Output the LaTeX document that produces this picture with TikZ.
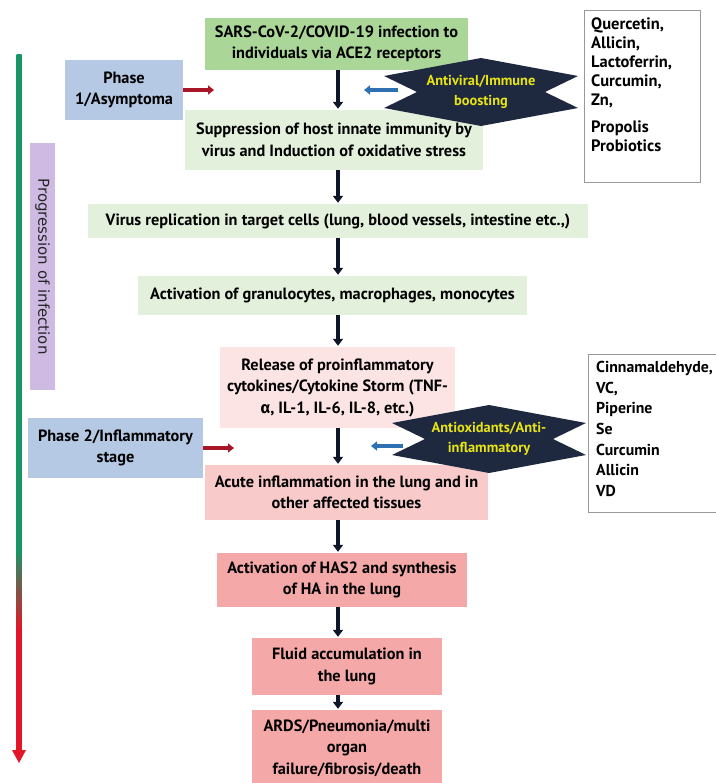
\documentclass[tikz,border=0pt]{standalone}
\usepackage{fontspec}
\setmainfont{PT Sans}
\newfontfamily\grkfont{Fira Sans}
\newfontfamily\labfont{DejaVu Sans}
\usetikzlibrary{positioning,arrows.meta,calc}

\definecolor{infgreen}{RGB}{170,215,152}
\definecolor{palegreen}{RGB}{227,240,219}
\definecolor{palepink}{RGB}{252,228,228}
\definecolor{midpink}{RGB}{248,202,202}
\definecolor{salmon}{RGB}{244,168,168}
\definecolor{phblue}{RGB}{181,201,228}
\definecolor{lavender}{RGB}{206,186,226}
\definecolor{navy}{RGB}{30,40,62}
\definecolor{starText}{RGB}{232,228,20}
\definecolor{arrBlack}{RGB}{16,22,42}
\definecolor{arrRed}{RGB}{168,22,40}
\definecolor{arrBlue}{RGB}{46,112,178}
\definecolor{progreen}{RGB}{24,150,102}
\definecolor{prored}{RGB}{226,22,40}

% green-to-red fill of the progression bar
\pgfdeclareverticalshading{progshade}{100bp}{color(0bp)=(prored); color(33.8bp)=(prored);
  color(39.5bp)=(progreen); color(100bp)=(progreen)}

% four-pointed banner drawn round a text node
\newcommand{\starpoly}[1]{%
  \fill[navy] ($(#1)+(0,-34)$) -- ($(#1)+(97,-16)$) -- ($(#1)+(64,0)$) -- ($(#1)+(97,16)$)
    -- ($(#1)+(0,34)$) -- ($(#1)+(-97,16)$) -- ($(#1)+(-64,0)$) -- ($(#1)+(-97,-16)$) -- cycle;}

\begin{document}
\begin{tikzpicture}[
    x=1pt, y=-1pt,
    flow/.style={inner sep=2pt, align=center, font=\fontsize{16.3}{21.5}\selectfont\bfseries},
    phase/.style={flow, fill=phblue},
    startext/.style={align=center, text=starText, font=\fontsize{14.4}{20.5}\selectfont\bfseries},
    frame/.style={draw=gray!80, line width=0.8pt, fill=white},
    listtext/.style={align=left, inner sep=0pt, font=\fontsize{16.5}{19}\selectfont\bfseries},
    down/.style={-{Triangle[length=7pt, width=10pt]}, line width=3.5pt, draw=arrBlack, shorten >=1pt},
    redarr/.style={-{Triangle[length=6pt, width=9pt]}, line width=4pt, draw=arrRed},
    bluearr/.style={-{Triangle[length=6pt, width=9pt]}, line width=4pt, draw=arrBlue}
]
\useasboundingbox (0,0) rectangle (715,783);

% progression bar
\coordinate (ptop) at (19,55);
\coordinate (pbot) at (19,763);
\shade[shading=progshade] ($(ptop)+(-2.5,0)$) rectangle (21.5,752);
\fill[prored] (12,750) -- (26,750) -- (pbot) -- cycle;
\node[fill=lavender, minimum width=247, minimum height=25, rotate=-90,
      font=\labfont\fontsize{15}{17}\selectfont, text=black!85] (prog) at (42.5,266.5) {Progression of infection};

% main chain
\node[flow, fill=infgreen, minimum width=263, minimum height=52] (inf) at (336.5,44) {SARS-CoV-2/COVID-19 infection to\\individuals via ACE2 receptors};
\node[flow, fill=palegreen, minimum width=298, minimum height=60] (sup) at (334,140) {Suppression of host innate immunity by\\virus and Induction of oxidative stress};
\node[flow, fill=palegreen, minimum width=500, minimum height=34] (vir) at (338,221) {Virus replication in target cells (lung, blood vessels, intestine etc.,)};
\node[flow, fill=palegreen, minimum width=389, minimum height=39] (gran) at (332.5,295.5) {Activation of granulocytes, macrophages, monocytes};
\node[flow, fill=palepink, minimum width=235, minimum height=81] (rel) at (337.5,387.5) {Release of proinflammatory\\cytokines/Cytokine Storm (TNF-\\{\grkfont α}, IL-1, IL-6, IL-8, etc.)};
\node[flow, fill=midpink, minimum width=283, minimum height=55] (acu) at (346.5,492.5) {Acute inflammation in the lung and in\\other affected tissues};
\node[flow, fill=salmon, minimum width=250, minimum height=54] (has) at (342,580) {Activation of HAS2 and synthesis\\of HA in the lung};
\node[flow, fill=salmon, minimum width=190, minimum height=57] (flu) at (347,666.5) {Fluid accumulation in\\the lung};
\node[flow, fill=salmon, minimum width=190, minimum height=76] (ards) at (347,748) {ARDS/Pneumonia/multi\\organ\\failure/fibrosis/death};

% phases
\node[phase, minimum width=118, minimum height=60] (ph1) at (124,90) {Phase\\1/Asymptoma};
\node[phase, minimum width=175, minimum height=60] (ph2) at (115.5,448) {Phase 2/Inflammatory\\stage};

% banners
\coordinate (av) at (481,92);
\starpoly{av}
\node[startext] (avtext) at (av) {Antiviral/Immune\\boosting};
\coordinate (ao) at (489,439);
\starpoly{ao}
\node[startext] (aotext) at (ao) {Antioxidants/Anti-\\inflammatory};

% compound lists
\node[frame, minimum width=116, minimum height=172, anchor=north west] (qbox) at (584,10) {};
\node[listtext, anchor=north west] (qlist) at ($(qbox.north west)+(7,8)$) {Quercetin,\\Allicin,\\Lactoferrin,\\Curcumin,\\Zn,\\[8pt]Propolis\\Probiotics};
\node[frame, minimum width=140, minimum height=158, anchor=north west] (cbox) at (588,354) {};
\node[listtext, anchor=north west, font=\fontsize{15.8}{20.7}\selectfont\bfseries] (clist) at ($(cbox.north west)+(8,7)$) {Cinnamaldehyde,\\VC,\\Piperine\\Se\\Curcumin\\Allicin\\VD};

% arrows
\coordinate (ax) at (338,0);
\draw[down] (inf.south -| ax) -- (sup.north -| ax);
\draw[down] (sup.south -| ax) -- (vir.north -| ax);
\draw[down] (vir.south -| ax) -- (gran.north -| ax);
\draw[down] (gran.south -| ax) -- (rel.north -| ax);
\draw[down] (rel.south -| ax) -- (acu.north -| ax);
\draw[down] (acu.south -| ax) -- (has.north -| ax);
\draw[down] (has.south -| ax) -- (flu.north -| ax);
\draw[down] (flu.south -| ax) -- (ards.north -| ax);

\coordinate (r1) at (214,90);
\coordinate (r2) at (234,448);
\draw[redarr] (ph1.east) -- (r1);
\draw[redarr] (ph2.east) -- (r2);

\coordinate (b1) at (364,90);
\coordinate (b2) at (371,446);
\draw[bluearr] ($(av)+(-83,-2)$) -- (b1);
\draw[bluearr] ($(ao)+(-86,7)$) -- (b2);
\end{tikzpicture}
\end{document}
